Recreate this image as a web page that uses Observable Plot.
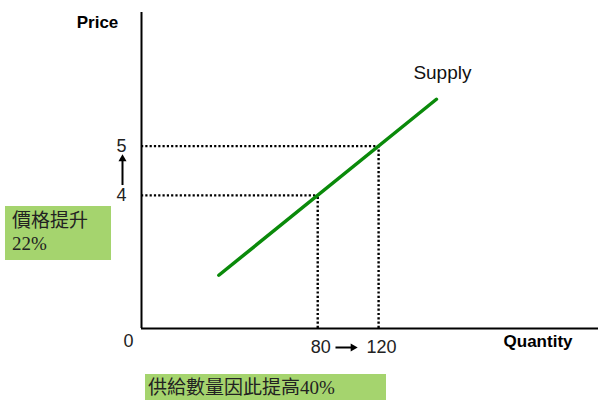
<!DOCTYPE html>
<html>
<head>
<meta charset="utf-8">
<script src="https://cdn.jsdelivr.net/npm/d3@7"></script>
<script src="https://cdn.jsdelivr.net/npm/@observablehq/plot@0.6"></script>
<style>
  body { margin: 0; background: #fff; }
  #chart { position: relative; width: 600px; height: 400px; overflow: hidden; font-family: "Liberation Sans", Arial, sans-serif; }
  #chart svg { position: absolute; left: 0; top: 0; }
  .note { position: absolute; background: #a5d46e; color: #222; font-family: "Liberation Serif", "Noto Sans CJK TC", serif; font-size: 19px; line-height: 23px; white-space: pre; box-sizing: border-box; }
  #note-price { left: 5px; top: 206px; width: 106px; height: 54px; padding: 3px 0 0 7px; }
  #note-qty { left: 145px; top: 374px; width: 241px; height: 30px; padding: 2px 0 0 3px; }
</style>
</head>
<body>
<div id="chart"></div>
<script>
// Two price levels and the quantities supplied at each
const prices = [4, 5];
const quantities = [80, 120];
// Supply curve end points (quantity, price)
const supplyQ = [15, 158];
const supplyP = [2.38, 5.95];
// Text
const priceTickLabels = ["4", "5"];
const qtyTickLabels = ["80", "120"];
const originLabel = "0";
const xTitle = "Quantity";
const yTitle = "Price";
const curveLabel = "Supply";
const priceNote = "價格提升\n22%";
const qtyNote = "供給數量因此提高40%";
// Visible ranges of the two axes
const qDomain = [-35.8, 264.5];
const pDomain = [1.3, 7.71];

const points = prices.map((p, i) => ({
  p, q: quantities[i], pLabel: priceTickLabels[i], qLabel: qtyTickLabels[i]
}));
const supply = supplyQ.map((q, i) => ({q, p: supplyP[i]}));

// short arrows between the two tick labels on each axis
const pMid = [prices[0] + 0.2 * (prices[1] - prices[0]), prices[0] + 0.74 * (prices[1] - prices[0])];
const qMid = [quantities[0] + 0.3 * (quantities[1] - quantities[0]), quantities[0] + 0.58 * (quantities[1] - quantities[0])];

const dotted = {stroke: "#000", strokeWidth: 2.4, strokeDasharray: "2.2,2.1"};
const bold = {fontWeight: "bold", fontSize: 17, fill: "#000"};

const chart = Plot.plot({
  width: 600,
  height: 400,
  marginLeft: 141,
  marginRight: 2,
  marginTop: 12,
  marginBottom: 72,
  x: {domain: qDomain, axis: null},
  y: {domain: pDomain, axis: null},
  style: {fontFamily: "Liberation Sans, Arial, sans-serif", overflow: "visible", background: "transparent"},
  marks: [
    // dotted guides from the curve to both axes
    Plot.ruleY(points, {y: "p", x1: qDomain[0], x2: "q", ...dotted}),
    Plot.ruleX(points, {x: "q", y1: pDomain[0], y2: "p", ...dotted}),
    // axes
    Plot.ruleX([qDomain[0]], {y1: pDomain[0], y2: pDomain[1], stroke: "#000", strokeWidth: 2}),
    Plot.ruleY([pDomain[0]], {x1: qDomain[0], x2: qDomain[1], stroke: "#000", strokeWidth: 2}),
    // supply curve
    Plot.line(supply, {x: "q", y: "p", stroke: "#0a8a0a", strokeWidth: 3.5}),
    Plot.text([supply[1]], {x: "q", y: "p", text: () => curveLabel, dx: 6, dy: -26, fontSize: 19, fill: "#111"}),
    // price tick labels with an upward arrow
    Plot.text(points, {x: qDomain[0], y: "p", text: "pLabel", dx: -20, fontSize: 18, fill: "#222"}),
    Plot.ruleX([qDomain[0]], {y1: pMid[0], y2: pMid[1], dx: -19, stroke: "#000", strokeWidth: 2}),
    Plot.dot([qDomain[0]], {x: d => d, y: pMid[1], dx: -19, symbol: "triangle", r: 3, fill: "#000", stroke: "none"}),
    // quantity tick labels with a rightward arrow
    Plot.text(points, {x: "q", y: pDomain[0], text: "qLabel", dx: 3, dy: 19, fontSize: 18, fill: "#222"}),
    Plot.ruleY([pDomain[0]], {x1: qMid[0], x2: qMid[1], dy: 19, stroke: "#000", strokeWidth: 2}),
    Plot.dot([qMid[1]], {x: d => d, y: pDomain[0], dy: 19, symbol: "triangle", rotate: 90, r: 3, fill: "#000", stroke: "none"}),
    // origin and axis titles
    Plot.text([originLabel], {x: qDomain[0], y: pDomain[0], text: d => d, dx: -13, dy: 13, fontSize: 18, fill: "#222"}),
    Plot.text([yTitle], {x: qDomain[0], y: pDomain[1], text: d => d, dx: -44, dy: 10, ...bold}),
    Plot.text([xTitle], {x: qDomain[1], y: pDomain[0], text: d => d, textAnchor: "end", dx: -26, dy: 13, ...bold})
  ]
});

const root = document.getElementById("chart");
root.append(chart);
for (const [id, txt] of [["note-price", priceNote], ["note-qty", qtyNote]]) {
  const div = document.createElement("div");
  div.className = "note";
  div.id = id;
  div.textContent = txt;
  root.append(div);
}
</script>
</body>
</html>
